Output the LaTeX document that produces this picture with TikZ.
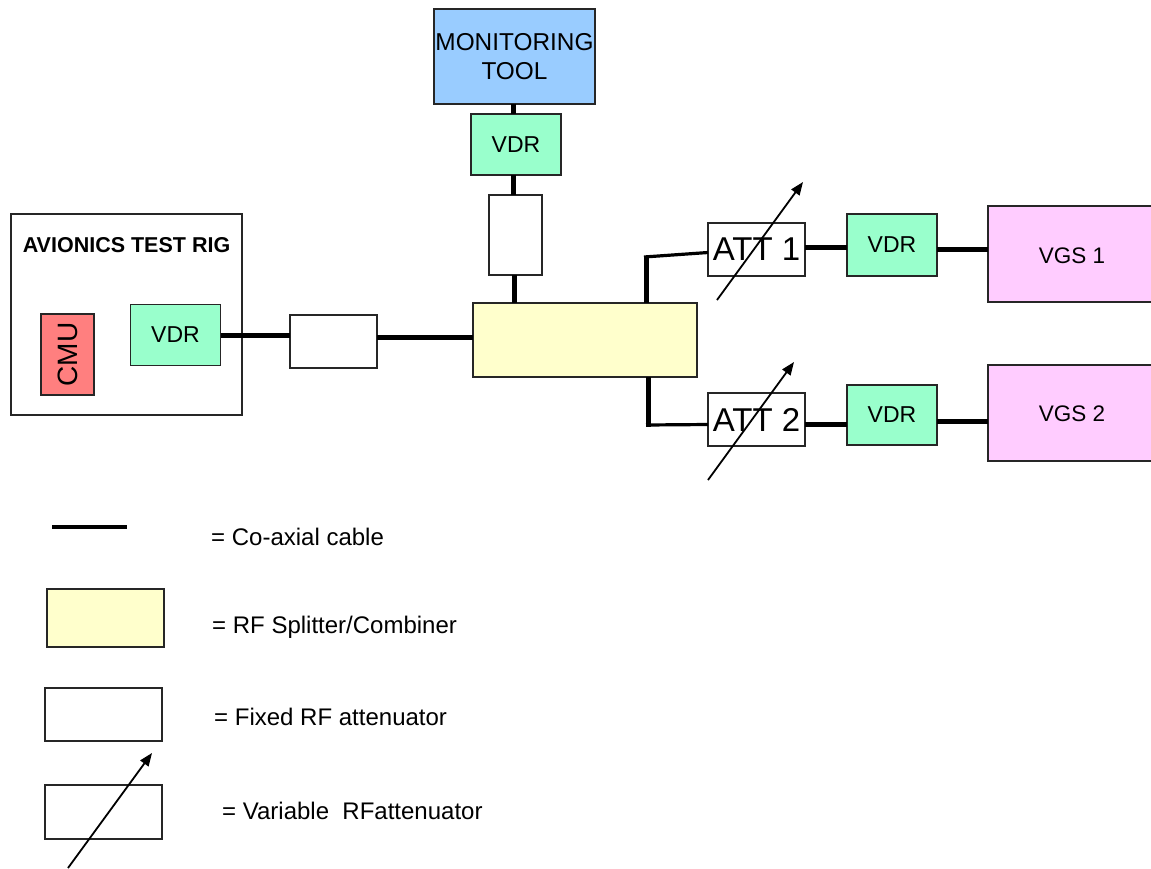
\documentclass[tikz,border=0pt]{standalone}
\usepackage{fontspec}
\setmainfont{Liberation Sans}
\usetikzlibrary{arrows.meta,calc}
\begin{document}
\begin{tikzpicture}[x=1pt,y=-1pt,
  box/.style={draw=black!85,line width=1.3pt,inner sep=0pt,outer sep=0pt,anchor=center,font=\fontsize{23}{27}\selectfont},
  vdr/.style={box,fill=vdrcol,minimum width=90pt,minimum height=61pt},
  att/.style={box,fill=white},
  cable/.style={line width=5pt,black},
  thincable/.style={line width=3.2pt,black},
  varrow/.style={line width=1.8pt,-{Triangle[length=13pt,width=10pt]}},
  lbl/.style={anchor=west,inner sep=0pt,font=\fontsize{24}{28}\selectfont}]
\definecolor{vdrcol}{HTML}{99FFCC}
\definecolor{moncol}{HTML}{99CCFF}
\definecolor{splcol}{HTML}{FFFFCC}
\definecolor{vgscol}{HTML}{FFCCFF}
\definecolor{cmucol}{HTML}{FF7F7F}
\useasboundingbox (0,0) rectangle (1151,868);
% Avionics test rig
\node[box,fill=white,minimum width=231pt,minimum height=201pt] (rig) at (126.5,314.5) {};
\node[font=\fontsize{21.5}{25}\selectfont\bfseries,inner sep=0pt] (rigt) at (126.5,245) {AVIONICS TEST RIG};
\node[box,fill=cmucol,minimum width=53pt,minimum height=81pt,font=\fontsize{28}{32}\selectfont] (cmu) at (67.5,354.5) {\rotatebox{90}{CMU}};
\node[vdr] (vdr0) at (175.5,335) {VDR};
% fixed attenuator horizontal
\node[att,minimum width=87pt,minimum height=53pt] (fa1) at (333.5,341.5) {};
% splitter
\node[box,fill=splcol,minimum width=224pt,minimum height=74pt] (spl) at (585,340) {};
% monitoring tool chain
\node[box,fill=moncol,minimum width=161pt,minimum height=95pt,align=center,font=\fontsize{24.4}{29}\selectfont] (mon) at (514.5,56.5) {MONITORING\\TOOL};
\node[vdr] (vdrm) at (516,144.5) {VDR};
\node[att,minimum width=53pt,minimum height=80pt] (fa2) at (515.5,235) {};
% ATT 1 / ATT 2
\node[att,minimum width=97pt,minimum height=53pt,font=\fontsize{33}{36}\selectfont] (att1) at (756.5,249.5) {ATT 1};
\node[att,minimum width=97pt,minimum height=53pt,font=\fontsize{33}{36}\selectfont] (att2) at (756.5,419.5) {ATT 2};
\node[vdr,minimum height=62pt] (vdr1) at (892,245) {VDR};
\node[vdr,minimum height=60pt] (vdr2) at (892,415) {VDR};
\node[box,fill=vgscol,minimum width=166pt,minimum height=96pt] (vgs1) at (1071,254) {};
\node[inner sep=0pt,font=\fontsize{22.5}{27}\selectfont] (vgs1t) at (1072,256) {VGS 1};
\node[box,fill=vgscol,minimum width=166pt,minimum height=96pt] (vgs2) at (1071,413) {};
\node[inner sep=0pt,font=\fontsize{22.5}{27}\selectfont] (vgs2t) at (1072,414) {VGS 2};
% cables
\coordinate (c1) at (0,335);
\draw[cable] (vdr0.east |- c1) -- (fa1.west |- c1);
\coordinate (c2) at (0,337);
\draw[cable] (fa1.east |- c2) -- (spl.west |- c2);
\coordinate (m1) at (513,0);
\draw[cable] (mon.south -| m1) -- (vdrm.north -| m1);
\draw[cable] (vdrm.south -| m1) -- (fa2.north -| m1);
\coordinate (m2) at (514,0);
\draw[cable] (fa2.south -| m2) -- (spl.north -| m2);
\coordinate (j1) at (646,257);
\draw[cable] (spl.north -| j1) -- ($(j1)+(0,-1.5)$);
\draw[thincable] ($(j1)+(-2,0)$) -- ($(att1.west)+(0,3)$);
\coordinate (j2) at (648,425);
\draw[cable] (spl.south -| j2) -- ($(j2)+(0,1.5)$);
\draw[thincable] ($(j2)+(-2,0)$) -- ($(att2.west)+(0,5)$);
\coordinate (r1) at (0,247);
\draw[cable] (att1.east |- r1) -- (vdr1.west |- r1);
\coordinate (r2) at (0,249);
\draw[cable] (vdr1.east |- r2) -- (vgs1.west |- r2);
\coordinate (r3) at (0,424);
\draw[cable] (att2.east |- r3) -- (vdr2.west |- r3);
\coordinate (r4) at (0,421);
\draw[cable] (vdr2.east |- r4) -- (vgs2.west |- r4);
% variable arrows
\coordinate (a1s) at (717,300); \coordinate (a1e) at (803,182);
\draw[varrow] (a1s) -- (a1e);
\coordinate (a2s) at (708,480); \coordinate (a2e) at (794,362);
\draw[varrow] (a2s) -- (a2e);
% legend
\coordinate (l1a) at (52,527); \coordinate (l1b) at (127,527);
\draw[line width=4.2pt] (l1a) -- (l1b);
\node[lbl] (t1) at (211,537) {= Co-axial cable};
\node[box,fill=splcol,minimum width=117pt,minimum height=58pt] (lspl) at (105.5,618) {};
\node[lbl] (t2) at (212,627) {= RF Splitter/Combiner};
\node[att,minimum width=117pt,minimum height=53pt] (lfix) at (103.5,714.5) {};
\node[lbl] (t3) at (214,717) {= Fixed RF attenuator};
\node[att,minimum width=117pt,minimum height=54pt] (lvar) at (103.5,812) {};
\node[lbl] (t4) at (222,811) {= Variable\ \ RFattenuator};
\coordinate (a3s) at (68,868); \coordinate (a3e) at (152,753);
\draw[varrow] (a3s) -- (a3e);
\end{tikzpicture}
\end{document}
